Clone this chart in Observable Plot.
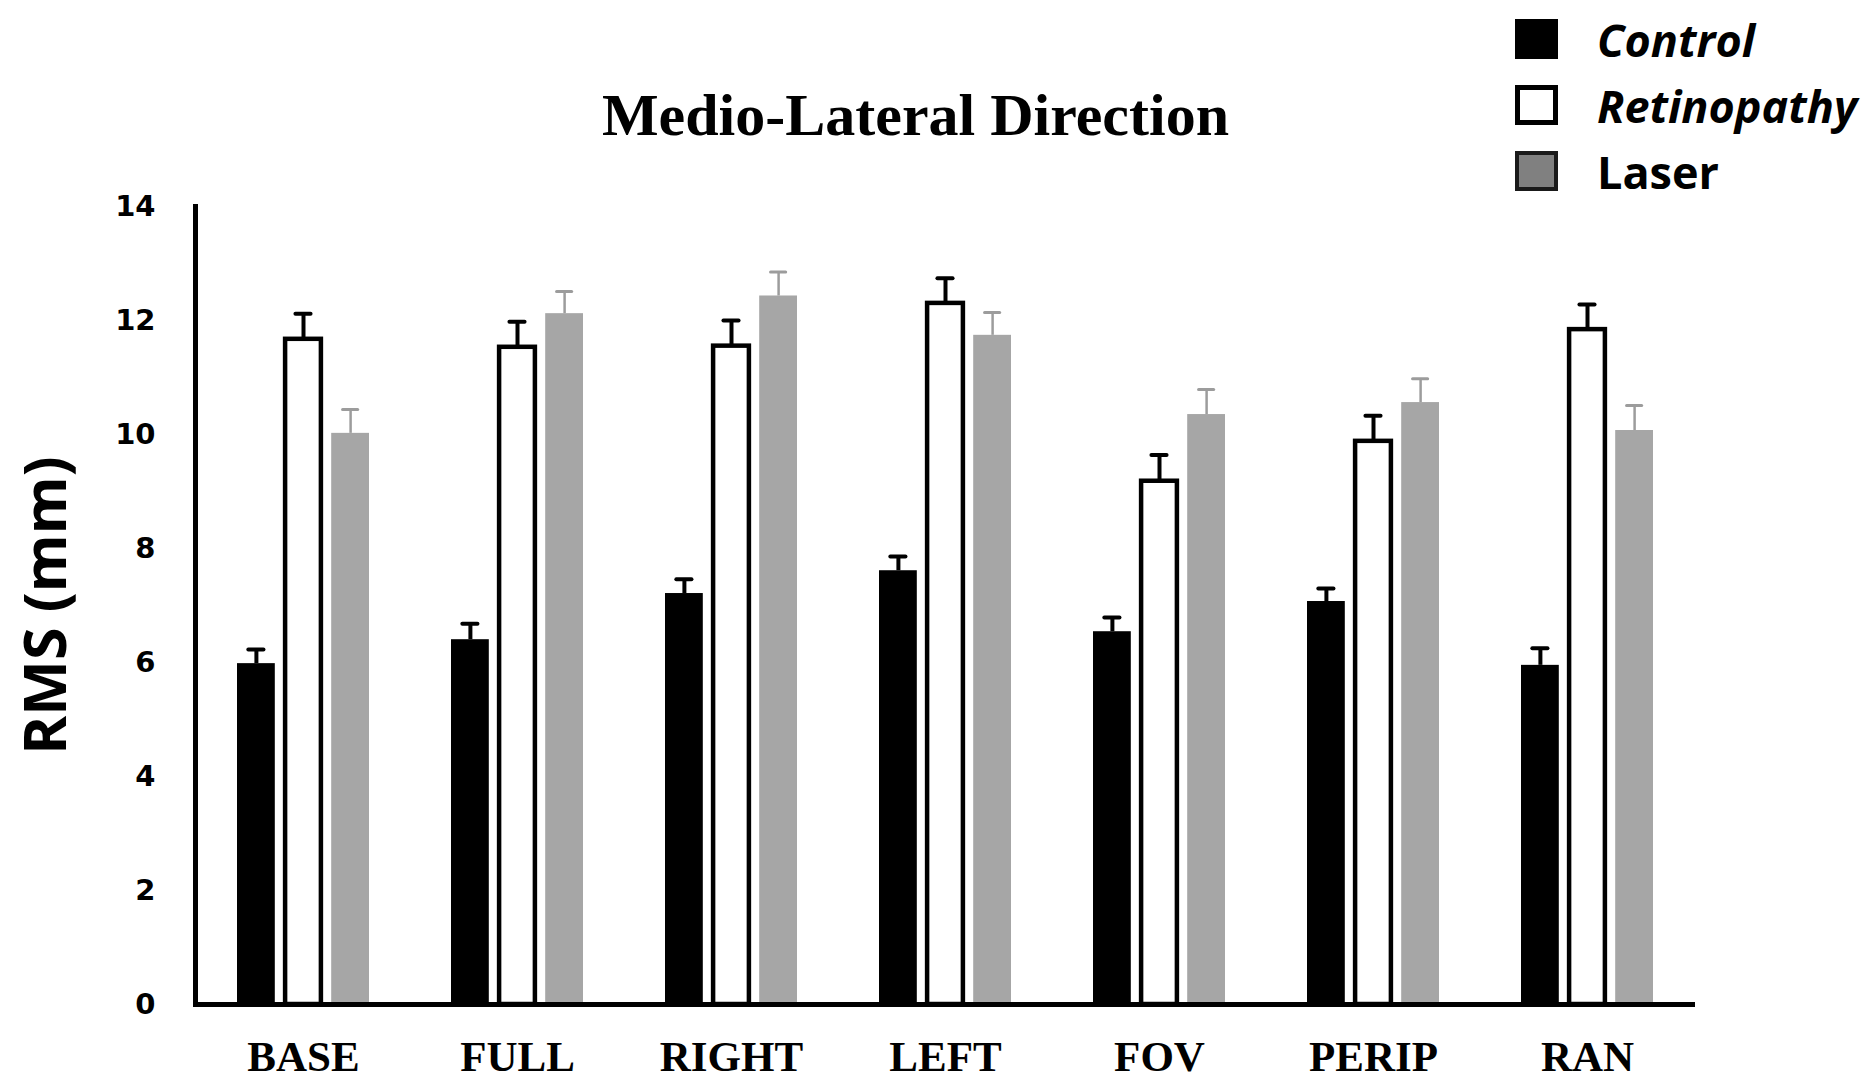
<!DOCTYPE html>
<html>
<head>
<meta charset="utf-8">
<script src="https://cdn.jsdelivr.net/npm/d3@7"></script>
<script src="https://cdn.jsdelivr.net/npm/@observablehq/plot@0.6"></script>
<style>
  body { margin: 0; background: #fff; }
  #wrap { width: 1874px; }
  #header { position: relative; z-index: 2; height: 180px; overflow: visible; }
  #title { position: absolute; left: 0; width: 1831px; top: 85px; text-align: center;
           font: 700 60px "Liberation Serif", "Times New Roman", serif; line-height: 60px; color: #000; white-space: nowrap; }
  #legend { position: absolute; left: 1515px; top: 6px; }
  .item { display: flex; align-items: center; height: 66px; }
  .swatch { width: 43px; height: 40px; box-sizing: border-box; margin-right: 39px; }
  .lab { font: 700 45px "Open Sans", sans-serif; line-height: 45px; color: #000; white-space: nowrap; }
</style>
</head>
<body>
<div id="wrap">
  <div id="header"><div id="title"></div><div id="legend"></div></div>
  <div id="chart"></div>
</div>
<script>
const titleText = "Medio-Lateral Direction";
const yLabel = "RMS (mm)";
const categories = ["BASE", "FULL", "RIGHT", "LEFT", "FOV", "PERIP", "RAN"];
const series = ["Control", "Retinopathy", "Laser"];
const yTicks = [0, 2, 4, 6, 8, 10, 12, 14];

const controlMean     = [5.98, 6.40, 7.21, 7.61, 6.54, 7.07, 5.95];
const controlErr      = [0.25, 0.28, 0.25, 0.25, 0.25, 0.23, 0.30];
const retinopathyMean = [11.67, 11.53, 11.55, 12.30, 9.18, 9.88, 11.84];
const retinopathyErr  = [0.45, 0.45, 0.45, 0.44, 0.46, 0.45, 0.44];
const laserMean       = [10.02, 12.12, 12.43, 11.74, 10.35, 10.56, 10.07];
const laserErr        = [0.42, 0.39, 0.42, 0.40, 0.44, 0.42, 0.44];

const means = {Control: controlMean, Retinopathy: retinopathyMean, Laser: laserMean};
const errs = {Control: controlErr, Retinopathy: retinopathyErr, Laser: laserErr};

const rows = categories.flatMap((c, i) => series.map(s => ({category: c, series: s, mean: means[s][i], err: errs[s][i]})));

// styles
const barStyle = {
  Control: {fill: "#000"},
  Retinopathy: {fill: "#fff", stroke: "#000", strokeWidth: 4.5},
  Laser: {fill: "#a6a6a6"}
};
const errStyle = {
  Control: {stroke: "#000", stem: 4, cap: 4},
  Retinopathy: {stroke: "#000", stem: 4, cap: 4},
  Laser: {stroke: "#9c9c9c", stem: 2.5, cap: 3}
};
const legendStyle = {
  Control: {background: "#000", border: "none", italic: true},
  Retinopathy: {background: "#fff", border: "5px solid #000", italic: true},
  Laser: {background: "#808080", border: "4px solid #1a1a1a", italic: false}
};

// layout
const W = 1874, H = 901, mL = 195, mR = 179, mT = 26, mB = 77;
const padIn = 0.385, padOut = 0.19, subPad = 0.2, capHalf = 7.5;
const xBand = d3.scaleBand().domain(categories).range([mL, W - mR]).paddingInner(padIn).paddingOuter(padOut);
const bw = xBand.bandwidth();
const sub = d3.scaleBand().domain(series).range([0, bw]).paddingInner(subPad);

const marks = [];
for (const s of series) {
  const d = rows.filter(r => r.series === s);
  const extra = barStyle[s].stroke ? 1 : 0;
  const left = sub(s), right = bw - sub(s) - sub.bandwidth();
  const center = sub(s) + sub.bandwidth() / 2;
  marks.push(Plot.barY(d, {x: "category", y: "mean", insetLeft: left + extra, insetRight: right + extra, ...barStyle[s]}));
  marks.push(Plot.ruleX(d, {x: "category", y1: "mean", y2: r => r.mean + r.err, dx: center - bw / 2,
    stroke: errStyle[s].stroke, strokeWidth: errStyle[s].stem}));
  marks.push(Plot.tickY(d, {x: "category", y: r => r.mean + r.err, insetLeft: center - capHalf, insetRight: bw - center - capHalf,
    stroke: errStyle[s].stroke, strokeWidth: errStyle[s].cap, strokeLinecap: "round"}));
}

const chart = Plot.plot({
  width: W, height: H,
  marginLeft: mL, marginRight: mR, marginTop: mT, marginBottom: mB,
  style: {background: "white", color: "#000"},
  x: {type: "band", domain: categories, paddingInner: padIn, paddingOuter: padOut},
  y: {domain: [0, 14]},
  marks: [
    ...marks,
    Plot.ruleY([0], {stroke: "#000", strokeWidth: 5}),
    Plot.frame({anchor: "left", stroke: "#000", strokeWidth: 5}),
    Plot.axisY({ticks: yTicks, tickSize: 0, tickPadding: 40, label: null, tickFormat: d3.format("d"),
      fontSize: 29, fontWeight: "bold", fontFamily: "DejaVu Sans"}),
    Plot.axisX({tickSize: 0, tickPadding: 36, label: null,
      fontSize: 43, fontWeight: "bold", fontFamily: "Liberation Serif"}),
    Plot.text([yLabel], {frameAnchor: "left", rotate: -90, dx: -171, lineAnchor: "top", textAnchor: "middle",
      fontSize: 59, fontWeight: 700, fontFamily: "Open Sans"})
  ]
});
document.getElementById("chart").appendChild(chart);

document.getElementById("title").textContent = titleText;
const legend = d3.select("#legend");
for (const s of series) {
  const it = legend.append("div").attr("class", "item");
  it.append("div").attr("class", "swatch")
    .style("background", legendStyle[s].background)
    .style("border", legendStyle[s].border);
  it.append("div").attr("class", "lab")
    .style("font-style", legendStyle[s].italic ? "italic" : "normal")
    .text(s);
}
</script>
</body>
</html>
